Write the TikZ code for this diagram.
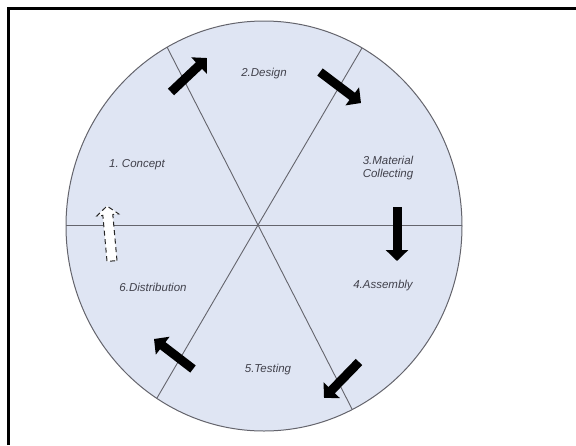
\documentclass[tikz,border=0pt]{standalone}
\usepackage{fontspec}
\setmainfont{Liberation Sans}
\usepackage{tikz}
\usetikzlibrary{arrows.meta, calc}
\definecolor{wheelfill}{RGB}{223,229,243}
\definecolor{wheelline}{RGB}{100,100,108}
\definecolor{labelgray}{RGB}{65,65,75}
\tikzset{
  spoke/.style={draw=wheelline, line width=0.9pt},
  stage/.style={font=\itshape\fontsize{11.5}{12.5}\selectfont, text=labelgray, align=center, inner sep=1pt},
  blockarrow/.style={line width=9pt, -{Triangle[width=22pt, length=11pt]}, color=black}
}

\begin{document}
\begin{tikzpicture}[x=1pt, y=-1pt]
  \useasboundingbox (0,0) rectangle (576,445);
  % ═══════════════════════════════════════════════════════════════
  % FRAME AND WHEEL
  % ═══════════════════════════════════════════════════════════════
  \draw[line width=2.5pt] (8.5,445) -- (8.5,8.5) -- (576,8.5);
  \filldraw[fill=wheelfill, draw=wheelline, line width=1pt] (264,226) ellipse [x radius=198pt, y radius=205pt];

  % Spokes (six sectors)
  \coordinate (hub) at (258,225);
  \coordinate (rimW) at (66,225);
  \coordinate (rimE) at (462,225);
  \coordinate (rimNW) at (167,47);
  \coordinate (rimNE) at (362,48);
  \coordinate (rimSW) at (157,398);
  \coordinate (rimSE) at (352,409);
  \draw[spoke] (rimW) -- (rimE);
  \draw[spoke] (rimNW) -- (hub) -- (rimSE);
  \draw[spoke] (rimNE) -- (hub) -- (rimSW);

  % ═══════════════════════════════════════════════════════════════
  % STAGE LABELS
  % ═══════════════════════════════════════════════════════════════
  \node[stage] (concept) at (137,165) {1.\ Concept};
  \node[stage] (design) at (264,74) {2.Design};
  \node[stage] (material) at (388,168) {3.Material\\Collecting};
  \node[stage] (assembly) at (383,286) {4.Assembly};
  \node[stage] (testing) at (268,370) {5.Testing};
  \node[stage] (distribution) at (153,287) {6.Distribution};

  % ═══════════════════════════════════════════════════════════════
  % TRANSITION ARROWS
  % ═══════════════════════════════════════════════════════════════
  \coordinate (a1s) at (171,92);  \coordinate (a1e) at (207,58);
  \coordinate (a2s) at (320,72);  \coordinate (a2e) at (361,103);
  \coordinate (a3s) at (397,207); \coordinate (a3e) at (397,261);
  \coordinate (a4s) at (359,362); \coordinate (a4e) at (324,398);
  \coordinate (a5s) at (193,369); \coordinate (a5e) at (154,339);
  \draw[blockarrow] (a1s) -- (a1e);
  \draw[blockarrow] (a2s) -- (a2e);
  \draw[blockarrow] (a3s) -- (a3e);
  \draw[blockarrow] (a4s) -- (a4e);
  \draw[blockarrow] (a5s) -- (a5e);

  % Closing step (dashed, back to Concept)
  \coordinate (a6s) at (112,261);
  \coordinate (a6e) at (107,206);
  \coordinate (a6n) at ($(a6e)!9pt!(a6s)$);
  \draw[dashed, dash pattern=on 5pt off 3.5pt, draw=black!85, fill=white, line width=1pt]
    ($(a6s)!5pt!-90:(a6e)$) -- ($(a6n)!5pt!90:(a6s)$) -- ($(a6n)!11pt!90:(a6s)$)
    -- (a6e) -- ($(a6n)!11pt!-90:(a6s)$) -- ($(a6n)!5pt!-90:(a6s)$)
    -- ($(a6s)!5pt!90:(a6e)$) -- cycle;
\end{tikzpicture}
\end{document}
